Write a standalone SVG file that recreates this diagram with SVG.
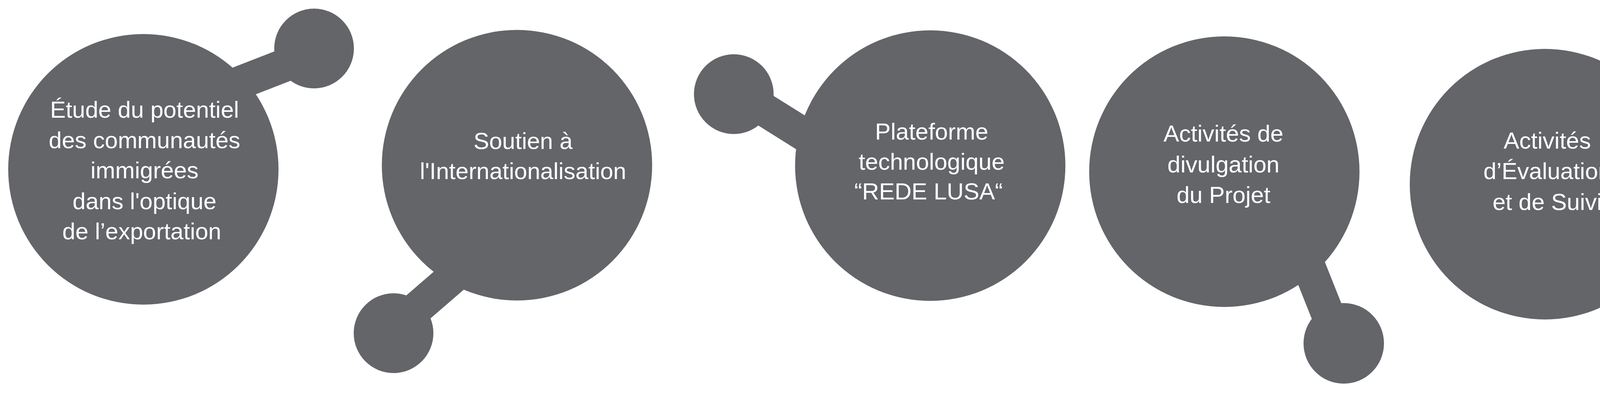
<svg xmlns="http://www.w3.org/2000/svg" width="4518" height="1005" viewBox="0 0 4518 1005">
<style>
.shape{fill:#636569}
.bar{stroke:#636569;stroke-width:85;stroke-linecap:butt;fill:none}
.lbl{fill:#ffffff;font-family:"Liberation Sans",Arial,sans-serif;font-size:60px;text-anchor:middle}
</style>
<rect x="0" y="0" width="4518" height="1005" fill="#ffffff"/>
<g id="connectors">
<line class="bar" x1="486" y1="261" x2="803" y2="138"/>
<line class="bar" x1="1225.4" y1="651.7" x2="1007.4" y2="839.8"/>
<line class="bar" x1="1878.7" y1="231.8" x2="2173.8" y2="416.3"/>
<line class="bar" x1="3283.9" y1="514.1" x2="3428.8" y2="878"/>
<line class="bar" x1="4076.6" y1="303" x2="4394.3" y2="177.1"/>
</g>
<g id="node1">
<circle class="shape" cx="367" cy="433" r="346"/>
<circle class="shape" cx="804" cy="124" r="102"/>
<text class="lbl"><tspan x="370" y="301">Étude du potentiel</tspan><tspan x="370" y="379">des communautés</tspan><tspan x="370" y="456">immigrées</tspan><tspan x="370" y="535">dans l'optique</tspan><tspan x="363" y="612">de l’exportation</tspan></text>
</g>
<g id="node2">
<circle class="shape" cx="1323.5" cy="422.5" r="346"/>
<circle class="shape" cx="1007.5" cy="852" r="102"/>
<text class="lbl"><tspan x="1339" y="381">Soutien à</tspan><tspan x="1339" y="458">l'Internationalisation</tspan></text>
</g>
<g id="node3">
<circle class="shape" cx="2381.4" cy="423.5" r="346"/>
<circle class="shape" cx="1878.5" cy="240.7" r="102"/>
<text class="lbl"><tspan x="2385" y="357">Plateforme</tspan><tspan x="2385" y="434">technologique</tspan><tspan x="2377" y="510">“REDE LUSA“</tspan></text>
</g>
<g id="node4">
<circle class="shape" cx="3134.3" cy="439" r="346"/>
<circle class="shape" cx="3440" cy="878" r="103"/>
<text class="lbl"><tspan x="3132" y="362">Activités de</tspan><tspan x="3132" y="441">divulgation</tspan><tspan x="3132" y="519">du Projet</tspan></text>
</g>
<g id="node5">
<circle class="shape" cx="3955" cy="471" r="346"/>
<circle class="shape" cx="4394.5" cy="166" r="103"/>
<text class="lbl"><tspan x="3961" y="380">Activités</tspan><tspan x="3961" y="458">d’Évaluation</tspan><tspan x="3961" y="537">et de Suivi</tspan></text>
</g>
</svg>
